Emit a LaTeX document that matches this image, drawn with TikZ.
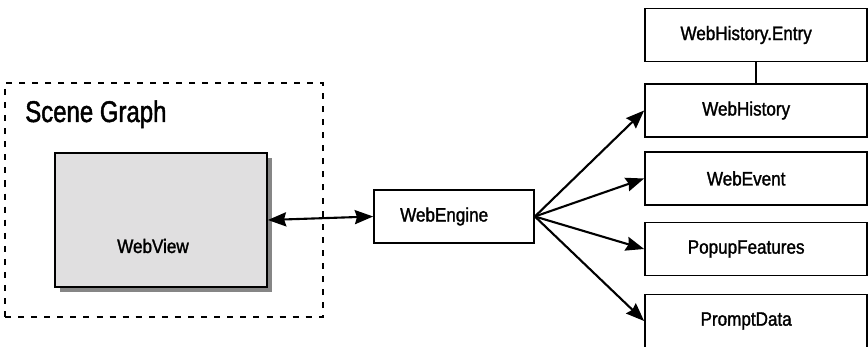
\documentclass[tikz,border=0pt]{standalone}
\usepackage{fontspec}
\setmainfont{Liberation Sans}[FakeStretch=0.88, FakeBold=1.5]
\newfontfamily\titlefont{Liberation Sans}[FakeStretch=0.8, FakeBold=1.5]
\usetikzlibrary{arrows.meta,positioning,shadows}
\definecolor{viewgray}{HTML}{E0DFE0}
\definecolor{shadegray}{HTML}{868686}

\begin{document}
\begin{tikzpicture}[
    x=0.025cm, y=-0.025cm,
    >={Stealth[length=13pt, width=10pt, inset=1.5pt]},
    box/.style={draw, line width=1.2pt, minimum width=5.55cm, minimum height=1.33cm,
      inner sep=0pt, font=\fontsize{13.8pt}{16pt}\selectfont,
      execute at end node={\hspace*{14pt}}},
    group/.style={draw, line width=1.4pt, dash pattern=on 4.3pt off 5pt},
    lbl/.style={font=\fontsize{13.8pt}{16pt}\selectfont, inner sep=0pt},
    wire/.style={line width=1.5pt},
  ]
  \useasboundingbox (0,0) rectangle (868,347);

  % ---------------- scene graph
  \node[group, minimum width=7.95cm, minimum height=5.85cm] (scene) at (164,200) {};
  \node[anchor=base west, inner sep=0pt, font=\titlefont\fontsize{21.3pt}{24pt}\selectfont]
       (title) at (25,122) {Scene Graph};
  \node[draw, line width=1.2pt, fill=viewgray, minimum width=5.3cm, minimum height=3.35cm,
        drop shadow={shadow xshift=3.6pt, shadow yshift=-3.6pt, fill=shadegray, opacity=1},
        label={[lbl, xshift=-5.7pt, yshift=-18.5pt]center:WebView}]
       (view) at (161,220) {};

  % ---------------- engine
  \node[box, minimum width=4cm] (engine) at (454,216.5) {WebEngine};
  \draw[<->,wire] (view.east) -- (engine.west);

  % ---------------- right column
  \node[box] (entry) at (756,35) {WebHistory.Entry};
  \node[box] (history) at (756,110.5) {WebHistory};
  \node[box] (event) at (756,178.5) {WebEvent};
  \node[box] (popup) at (756,249) {PopupFeatures};
  \node[box] (prompt) at (756,321) {PromptData};
  \draw[line width=1.2pt] (entry.south) -- (history.north);

  \foreach \t in {history,event,popup,prompt}
    \draw[->,wire] (engine.east) -- (\t.west);
\end{tikzpicture}
\end{document}
